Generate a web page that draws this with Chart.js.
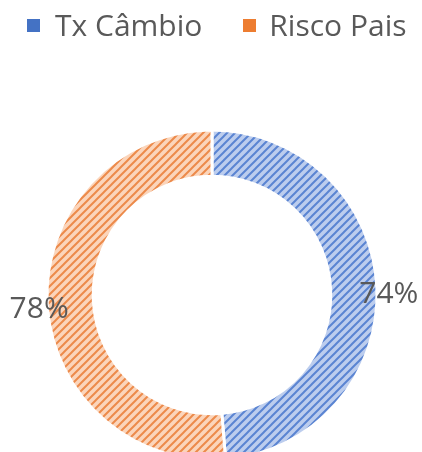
<!DOCTYPE html>
<html lang="pt">
<head>
  <meta charset="UTF-8" />
  <title>Tx Câmbio x Risco Pais</title>
  <script src="https://cdn.jsdelivr.net/npm/chart.js@4.4.0/dist/chart.umd.min.js"></script>
  <style>
    html, body { margin: 0; padding: 0; background: #fff; overflow: hidden; }
    body { width: 422px; height: 452px; position: relative; font-family: "Open Sans", sans-serif; }
    #legend { position: absolute; top: 7px; left: 27px; display: flex; align-items: center; color: #595959; font-size: 30px; line-height: 36px; z-index: 2; }
    #legend .box { width: 13px; height: 13px; display: inline-block; margin-right: 15px; }
    #legend .item { display: flex; align-items: center; }
    #legend .item + .item { margin-left: 41px; }
    #legend .item + .item .box { margin-right: 13px; }
    .wrap { position: absolute; top: 0; left: 0; width: 424px; height: 590px; }
  </style>
</head>
<body>
  <div id="legend"></div>
  <div class="wrap"><canvas id="donut"></canvas></div>

  <script>
    const categories = ["Tx Câmbio", "Risco Pais"];
    const values = [74, 78];
    const boxColors = ["#4472c4", "#ed7d31"];
    const lineColors = ["#5a84d2", "#ec8a4a"];
    const fillColors = ["#bccdee", "#fbd5bb"];

    // hachura diagonal, como no Excel
    function hatch(bg, fg) {
      const c = document.createElement("canvas");
      c.width = 8;
      c.height = 8;
      const g = c.getContext("2d");
      g.fillStyle = bg;
      g.fillRect(0, 0, 8, 8);
      g.strokeStyle = fg;
      g.lineWidth = 2;
      g.beginPath();
      g.moveTo(-1, 9); g.lineTo(9, -1);
      g.moveTo(-1, 1); g.lineTo(1, -1);
      g.moveTo(7, 9); g.lineTo(9, 7);
      g.stroke();
      return g.createPattern(c, "repeat");
    }

    const legend = document.getElementById("legend");
    categories.forEach((name, i) => {
      const item = document.createElement("span");
      item.className = "item";
      item.innerHTML = `<span class="box" style="background:${boxColors[i]}"></span><span>${name}</span>`;
      legend.appendChild(item);
    });

    const labelPlugin = {
      id: "pctLabels",
      afterDatasetsDraw(chart) {
        const ctx = chart.ctx;
        const meta = chart.getDatasetMeta(0);
        ctx.save();
        ctx.font = "30px 'Open Sans'";
        ctx.fillStyle = "#595959";
        ctx.textAlign = "center";
        ctx.textBaseline = "middle";
        meta.data.forEach((arc, i) => {
          const p = arc.getProps(["x", "y", "startAngle", "endAngle", "outerRadius"], true);
          const a = (p.startAngle + p.endAngle) / 2;
          const r = p.outerRadius + 10;
          ctx.fillText(values[i] + "%", p.x + Math.cos(a) * r + 2, p.y + Math.sin(a) * r + 7);
        });
        ctx.restore();
      }
    };

    new Chart(document.getElementById("donut"), {
      type: "doughnut",
      data: {
        labels: categories,
        datasets: [{
          data: values,
          backgroundColor: categories.map((c, i) => hatch(fillColors[i], lineColors[i])),
          borderColor: "#ffffff",
          borderWidth: 3
        }]
      },
      options: {
        responsive: true,
        maintainAspectRatio: false,
        animation: false,
        radius: 165,
        cutout: "72%",
        plugins: {
          legend: { display: false },
          tooltip: { enabled: false }
        }
      },
      plugins: [labelPlugin]
    });
  </script>
</body>
</html>
